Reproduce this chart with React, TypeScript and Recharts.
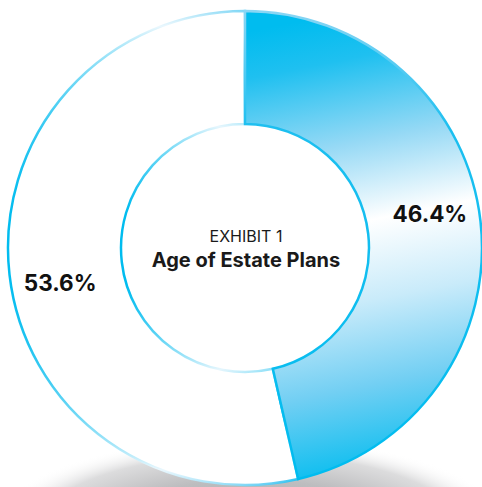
import { Pie, PieChart, Cell } from "recharts";

const segmentNames = ["Other", "Highlighted"];
const segmentValues = [53.6, 46.4];
const exhibitTag = "EXHIBIT 1";
const exhibitTitle = "Age of Estate Plans";

const chartRows = segmentNames.map((name, i) => ({ name, value: segmentValues[i] }));

const CX = 245;
const CY = 248;
const RAD = Math.PI / 180;

function renderValueLabel(props: any) {
  const { cx, cy, midAngle, value } = props;
  const r = 188;
  const a = (midAngle + 4) * RAD;
  const x = cx + r * Math.cos(a);
  const y = cy - r * Math.sin(a);
  return (
    <text
      x={x}
      y={y}
      textAnchor="middle"
      dominantBaseline="central"
      fill="#111111"
      fontFamily="Inter, 'Noto Sans', sans-serif"
      fontWeight={700}
      fontSize={22.5}
    >
      {`${Number(value).toFixed(1)}%`}
    </text>
  );
}

export default function App() {
  return (
    <div style={{ position: "absolute", left: 0, top: 0, width: 482, height: 487, background: "#ffffff" }}>
      <PieChart width={482} height={487} margin={{ top: 0, right: 0, bottom: 0, left: 0 }}>
        <defs>
          <radialGradient id="shadowFill" cx="0.5" cy="0.5" r="0.5">
            <stop offset="0%" stopColor="#a8a8aa" />
            <stop offset="55%" stopColor="#bdbdbf" />
            <stop offset="82%" stopColor="#dcdcdd" />
            <stop offset="100%" stopColor="#ffffff" stopOpacity={0} />
          </radialGradient>
          <linearGradient id="blueFill" x1="0.45" y1="0" x2="0.55" y2="1">
            <stop offset="0%" stopColor="#00bcef" />
            <stop offset="10%" stopColor="#1fc0f0" />
            <stop offset="28%" stopColor="#96d9f5" />
            <stop offset="45%" stopColor="#ffffff" />
            <stop offset="62%" stopColor="#c9ebfa" />
            <stop offset="80%" stopColor="#72cff3" />
            <stop offset="100%" stopColor="#00bcef" />
          </linearGradient>
          <linearGradient id="blueStroke" x1="0" y1="0" x2="0" y2="1">
            <stop offset="0%" stopColor="#8ad6f4" />
            <stop offset="25%" stopColor="#1cbff0" />
            <stop offset="100%" stopColor="#00bcef" />
          </linearGradient>
          <radialGradient id="whiteStroke" gradientUnits="userSpaceOnUse" cx={190} cy={248} r={260}>
            <stop offset="0%" stopColor="#00bcef" />
            <stop offset="28%" stopColor="#00bcef" />
            <stop offset="48%" stopColor="#e6f6fd" />
            <stop offset="70%" stopColor="#00bcef" />
            <stop offset="86%" stopColor="#eaf7fd" />
            <stop offset="96%" stopColor="#5fcdf3" />
            <stop offset="100%" stopColor="#00bcef" />
          </radialGradient>
        </defs>
        <ellipse cx={250} cy={532} rx={262} ry={95} fill="url(#shadowFill)" />
        <Pie
          data={chartRows}
          dataKey="value"
          nameKey="name"
          cx={CX}
          cy={CY}
          innerRadius={124}
          outerRadius={237}
          startAngle={90}
          endAngle={450}
          strokeWidth={2.5}
          label={renderValueLabel}
          labelLine={false}
          isAnimationActive={false}
        >
          <Cell fill="#ffffff" stroke="url(#whiteStroke)" />
          <Cell fill="url(#blueFill)" stroke="url(#blueStroke)" />
        </Pie>
        <g fontFamily="Inter, 'Noto Sans', sans-serif" textAnchor="middle" fill="#1a1a1a">
          <text x={CX + 1} y={CY - 12} dominantBaseline="central" fontSize={16} fontWeight={400}>
            {exhibitTag}
          </text>
          <text x={CX + 1} y={CY + 12} dominantBaseline="central" fontSize={20} fontWeight={700}>
            {exhibitTitle}
          </text>
        </g>
      </PieChart>
    </div>
  );
}
